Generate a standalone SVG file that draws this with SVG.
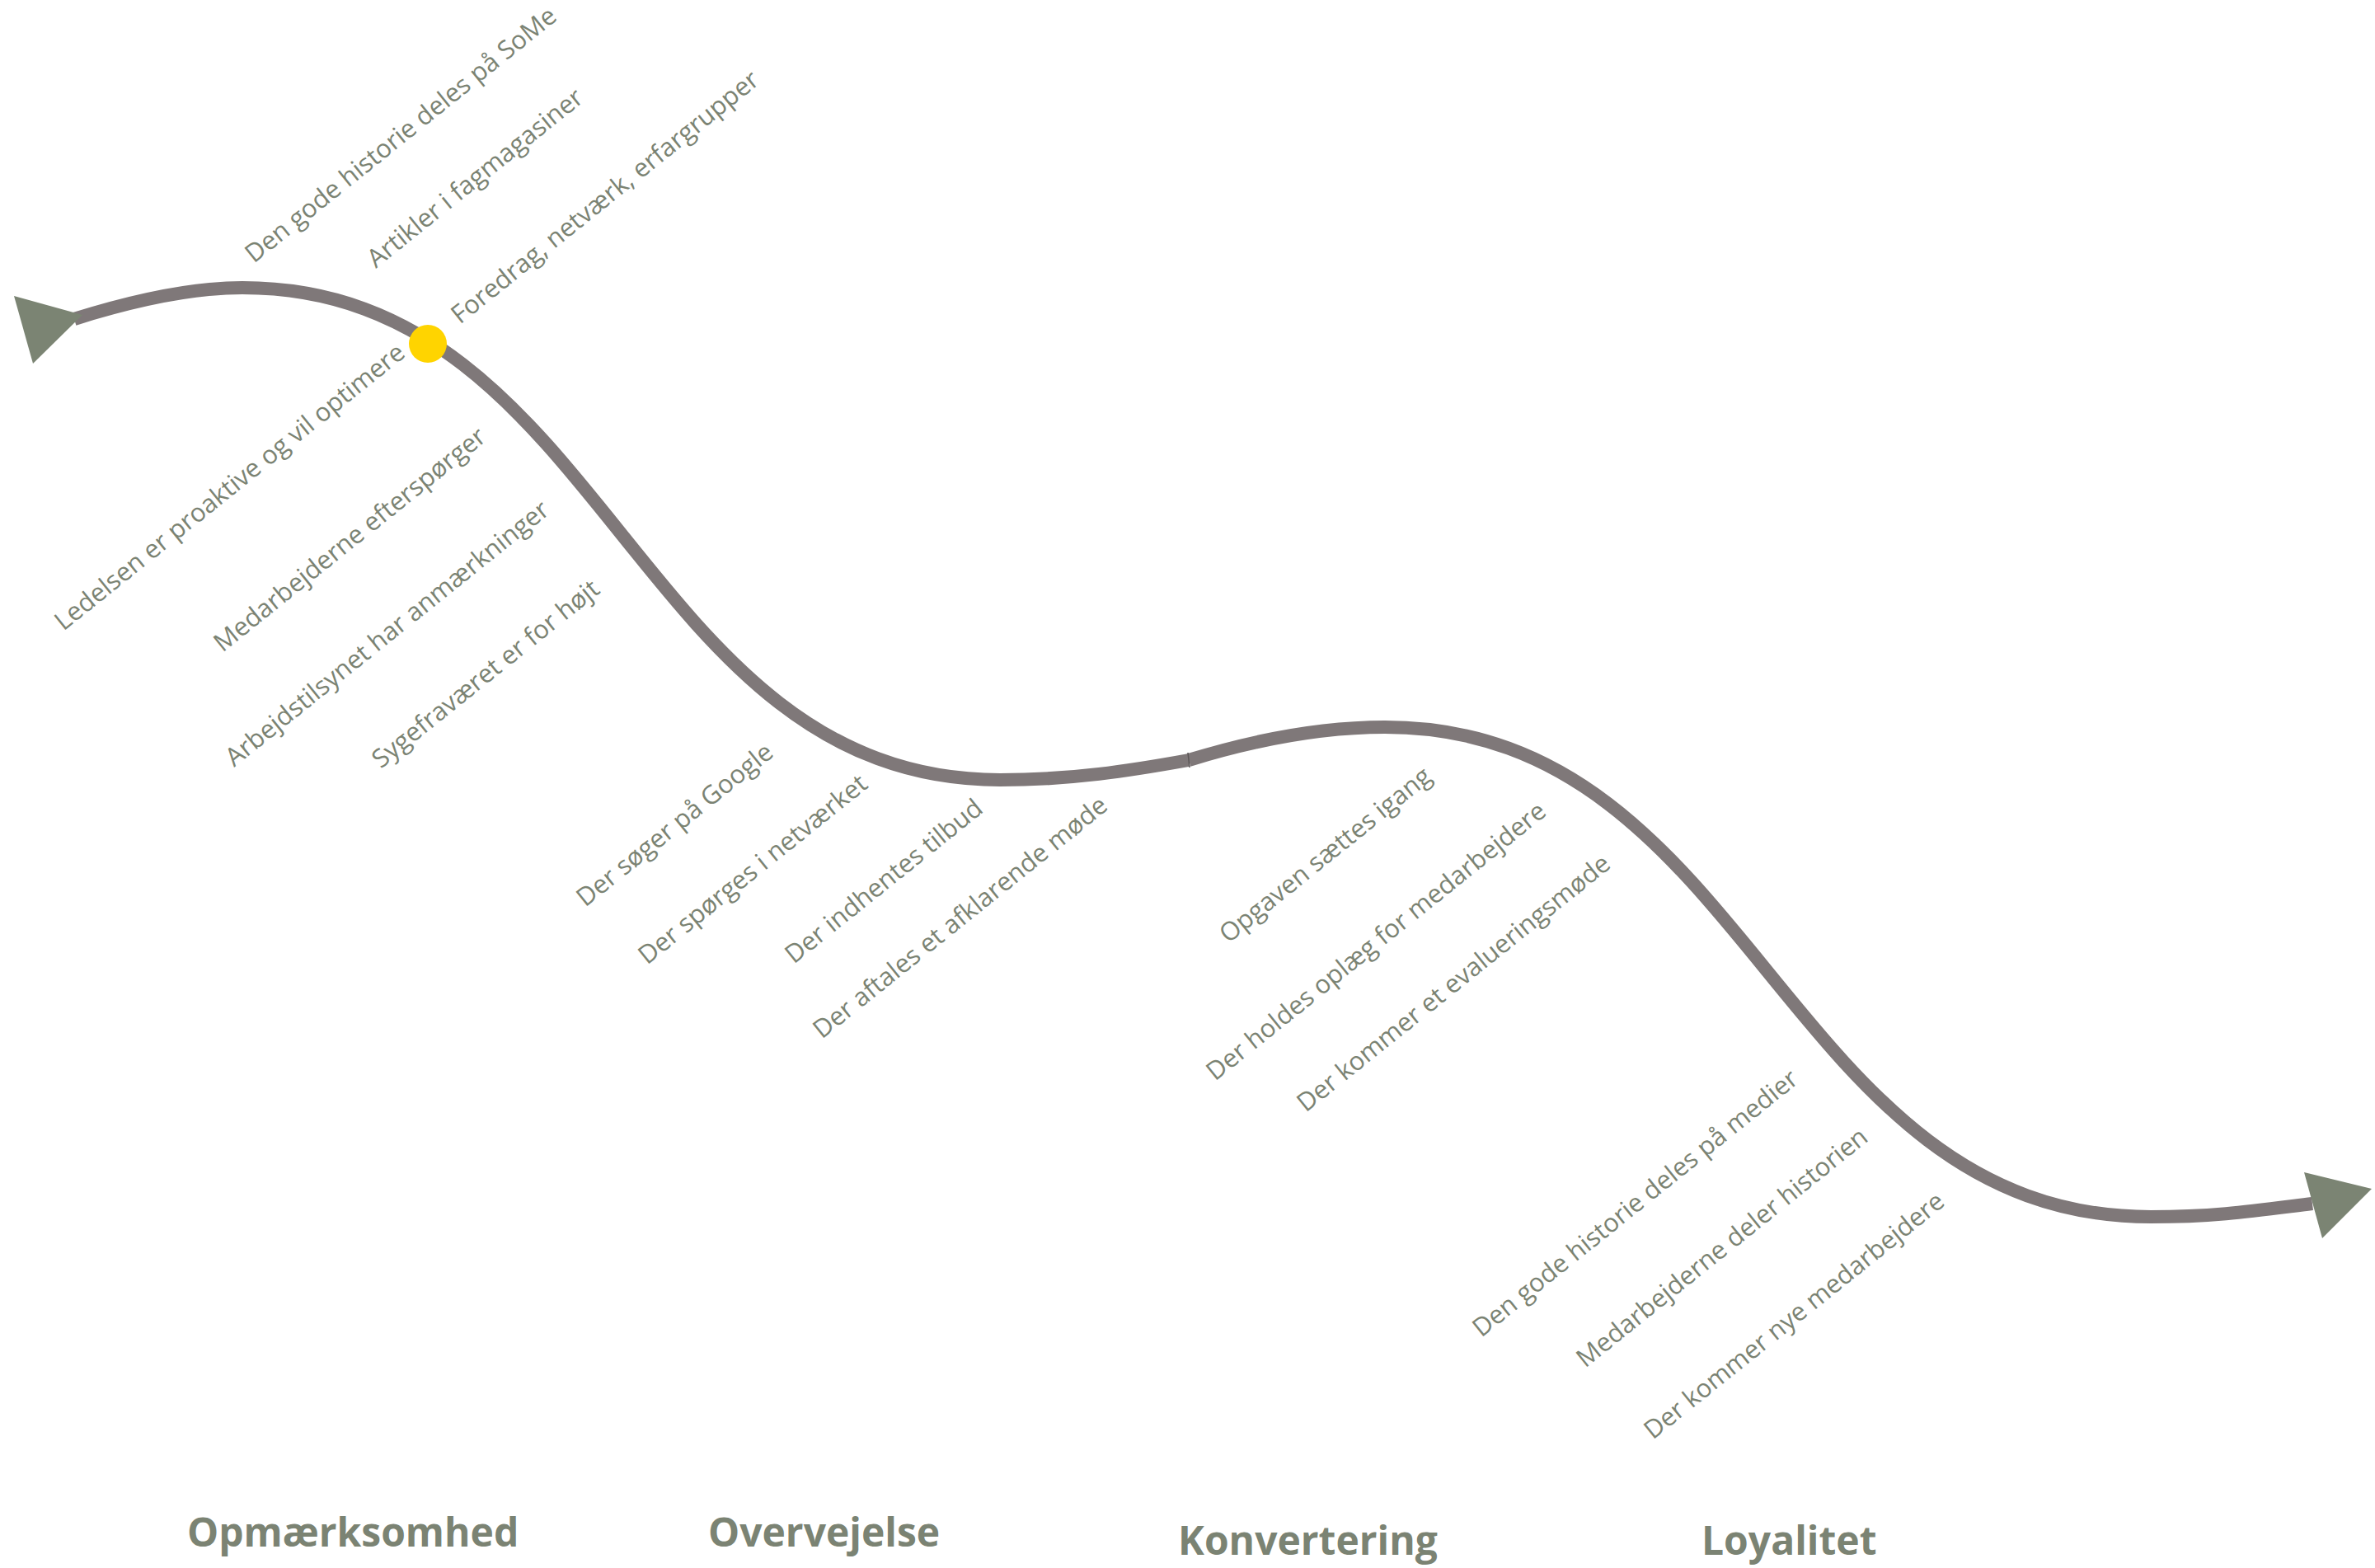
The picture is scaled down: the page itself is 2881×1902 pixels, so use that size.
<svg xmlns="http://www.w3.org/2000/svg" width="2881" height="1902" viewBox="0 0 2881 1902">
<style>
.lbl{font-family:"Open Sans","Liberation Sans",sans-serif;font-size:31px;fill:#7b8373}
.stage{font-family:"Open Sans","Liberation Sans",sans-serif;font-size:48px;font-weight:700;fill:#7b8373}
.curve{fill:none;stroke:#7f7879;stroke-width:16;stroke-linecap:butt}
.head{fill:#7b8473}
</style>
<rect width="2881" height="1902" fill="#ffffff"/>
<g id="connectors">
<path class="curve" d="M90,387 C160,365 230,349 294,349 C735,349 772,946 1213,946 C1300,946 1370,935 1442,922"/>
<path class="curve" d="M1442,922 C1520,898 1600,882 1680,882 C2126,882 2163,1476 2609,1476 C2690,1476 2740,1468 2805,1460"/>
<line x1="1441" y1="913" x2="1443" y2="931" stroke="#5a5556" stroke-width="1.5"/>
<polygon class="head" points="17,359 100,382 40,441"/>
<polygon class="head" points="2795,1422 2877,1442 2817,1502"/>
<circle cx="519" cy="417" r="23" fill="#ffd400"/>
</g>
<g id="awareness-items">
<g id="t1"><text class="lbl" transform="translate(308,320) rotate(-38.8)">Den gode historie deles på SoMe</text></g>
<g id="t2"><text class="lbl" transform="translate(456,326) rotate(-38.8)">Artikler i fagmagasiner</text></g>
<g id="t3"><text class="lbl" transform="translate(558,394) rotate(-38.8)">Foredrag, netværk, erfargrupper</text></g>
<g id="t4"><text class="lbl" transform="translate(77,766) rotate(-38.8)">Ledelsen er proaktive og vil optimere</text></g>
<g id="t5"><text class="lbl" transform="translate(270,792) rotate(-38.8)">Medarbejderne efterspørger</text></g>
<g id="t6"><text class="lbl" transform="translate(284,931) rotate(-38.8)">Arbejdstilsynet har anmærkninger</text></g>
<g id="t7"><text class="lbl" transform="translate(462,933) rotate(-38.8)">Sygefraværet er for højt</text></g>
</g>
<g id="consideration-items">
<g id="t8"><text class="lbl" transform="translate(710,1101) rotate(-38.8)">Der søger på Google</text></g>
<g id="t9"><text class="lbl" transform="translate(785,1171) rotate(-38.8)">Der spørges i netværket</text></g>
<g id="t10"><text class="lbl" transform="translate(963,1170) rotate(-38.8)">Der indhentes tilbud</text></g>
<g id="t11"><text class="lbl" transform="translate(997,1261) rotate(-38.8)">Der aftales et afklarende møde</text></g>
</g>
<g id="conversion-items">
<g id="t12"><text class="lbl" transform="translate(1490,1145) rotate(-38.8)">Opgaven sættes igang</text></g>
<g id="t13"><text class="lbl" transform="translate(1474,1312) rotate(-38.8)">Der holdes oplæg for medarbejdere</text></g>
<g id="t14"><text class="lbl" transform="translate(1584,1350) rotate(-38.8)">Der kommer et evalueringsmøde</text></g>
</g>
<g id="loyalty-items">
<g id="t15"><text class="lbl" transform="translate(1797,1623) rotate(-38.8)">Den gode historie deles på medier</text></g>
<g id="t16"><text class="lbl" transform="translate(1923,1660) rotate(-38.8)">Medarbejderne deler historien</text></g>
<g id="t17"><text class="lbl" transform="translate(2005,1747) rotate(-38.8)">Der kommer nye medarbejdere</text></g>
</g>
<g id="stage-opmaerksomhed"><text class="stage" x="227" y="1876">Opmærksomhed</text></g>
<g id="stage-overvejelse"><text class="stage" x="859" y="1876">Overvejelse</text></g>
<g id="stage-konvertering"><text class="stage" x="1429" y="1886">Konvertering</text></g>
<g id="stage-loyalitet"><text class="stage" x="2064" y="1886">Loyalitet</text></g>
</svg>
